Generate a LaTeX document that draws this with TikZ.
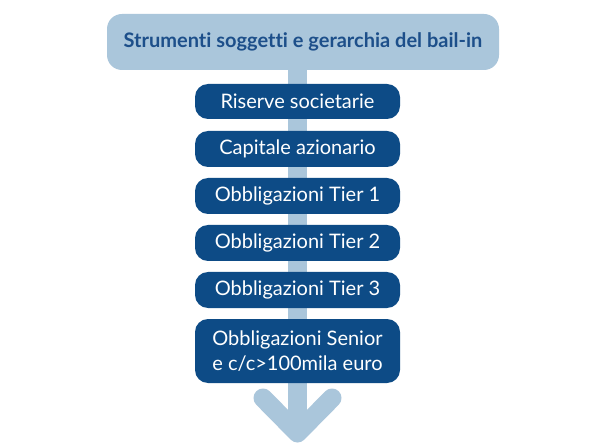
\documentclass[tikz,border=0pt]{standalone}
\usepackage{fontspec}
\setmainfont[Ligatures={NoCommon}]{Lato}
\definecolor{chiaro}{HTML}{AAC6DB}
\definecolor{scuro}{HTML}{0D4B86}
\definecolor{titolo}{HTML}{1D4F8A}
\tikzset{
  voce/.style={fill=scuro,text=white,rounded corners=13pt,minimum width=205pt,
    align=center,font=\fontsize{20}{25}\selectfont,inner sep=0pt},
  freccia/.style={chiaro,line width=19pt}
}
\begin{document}
\begin{tikzpicture}[x=1pt,y=-1pt]
\fill[white] (0,0) rectangle (594,446);
\coordinate (top) at (297.5,60);
\coordinate (tip) at (297.5,433);
\draw[freccia] (top) -- (tip);
\draw[freccia,line cap=round,line join=round] (263,398) -- (tip) -- (332,398);
\node[fill=chiaro,text=titolo,rounded corners=15pt,minimum width=392pt,minimum height=56pt,
  font=\fontsize{20}{24}\selectfont\bfseries] (titolo) at (303,42) {Strumenti soggetti e gerarchia del bail-in};
\node[voce,minimum height=35pt] (riserve) at (297.5,101.5) {Riserve societarie};
\node[voce,minimum height=36pt] (capitale) at (297.5,149) {Capitale azionario};
\node[voce,minimum height=36pt] (tier1) at (297.5,196) {Obbligazioni Tier 1};
\node[voce,minimum height=36pt] (tier2) at (297.5,243) {Obbligazioni Tier 2};
\node[voce,minimum height=36pt] (tier3) at (297.5,290) {Obbligazioni Tier 3};
\node[voce,minimum height=64pt] (senior) at (297.5,351) {Obbligazioni Senior\\e c/c>100mila euro};
\end{tikzpicture}
\end{document}
